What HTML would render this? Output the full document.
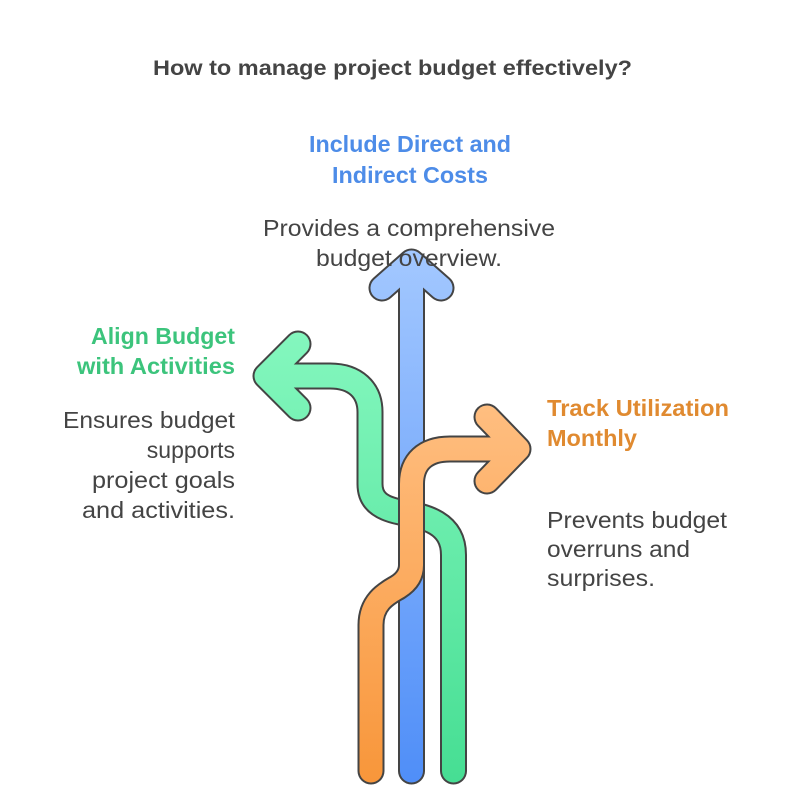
<!DOCTYPE html>
<html><head><style>
body{margin:0;background:#fff;width:792px;height:811px;overflow:hidden;font-family:"Liberation Sans",sans-serif;}
svg{position:absolute;left:0;top:0}
</style></head><body>
<svg width="792" height="811" viewBox="0 0 792 811">
<defs>
<linearGradient id="gb" gradientUnits="userSpaceOnUse" x1="0" y1="250" x2="0" y2="784"><stop offset="0" stop-color="#a3c8ff"/><stop offset="1" stop-color="#4f8ef8"/></linearGradient>
<linearGradient id="gg" gradientUnits="userSpaceOnUse" x1="0" y1="332" x2="0" y2="784"><stop offset="0" stop-color="#84f7be"/><stop offset="1" stop-color="#46de93"/></linearGradient>
<linearGradient id="go" gradientUnits="userSpaceOnUse" x1="0" y1="405" x2="0" y2="784"><stop offset="0" stop-color="#ffbe80"/><stop offset="1" stop-color="#f8963a"/></linearGradient>
</defs>
<g fill="none" stroke-linecap="round" stroke-linejoin="round">
<path d="M411.5 771 V268 M382 288 L411.5 262 L441 288" stroke="#444" stroke-width="27"/>
<path d="M411.5 771 V268 M382 288 L411.5 262 L441 288" stroke="url(#gb)" stroke-width="23"/>
<path d="M453.5 771 V555 C453.5 520 420 516 400 512 C380 508 370 500 370 484 V412 C370 390 355 376 330 376 H270 M298 344 L266 376 L298 408" stroke="#444" stroke-width="27"/>
<path d="M453.5 771 V555 C453.5 520 420 516 400 512 C380 508 370 500 370 484 V412 C370 390 355 376 330 376 H270 M298 344 L266 376 L298 408" stroke="url(#gg)" stroke-width="23"/>
<path d="M371 771 V625 C371 600 390 592 398 587 C406 582 411.5 575 411.5 565 V484 C411.5 462 425 449 450 449 H514 M487 417 L518 449 L487 481" stroke="#444" stroke-width="27"/>
<path d="M371 771 V625 C371 600 390 592 398 587 C406 582 411.5 575 411.5 565 V484 C411.5 462 425 449 450 449 H514 M487 417 L518 449 L487 481" stroke="url(#go)" stroke-width="23"/>
</g>
<g font-family="Liberation Sans, sans-serif">
<text x="153" y="75" textLength="479" lengthAdjust="spacingAndGlyphs" font-size="21" font-weight="bold" fill="#444">How to manage project budget effectively?</text>
<text x="309" y="152" textLength="202" lengthAdjust="spacingAndGlyphs" font-size="23" font-weight="bold" fill="#4d8ce8">Include Direct and</text>
<text x="332" y="183" textLength="156" lengthAdjust="spacingAndGlyphs" font-size="23" font-weight="bold" fill="#4d8ce8">Indirect Costs</text>
<text x="263" y="236" textLength="292" lengthAdjust="spacingAndGlyphs" font-size="23" fill="#444">Provides a comprehensive</text>
<text x="316" y="266" textLength="186" lengthAdjust="spacingAndGlyphs" font-size="23" fill="#444">budget overview.</text>
<text x="91" y="344" textLength="144" lengthAdjust="spacingAndGlyphs" font-size="23" font-weight="bold" fill="#3cc47c">Align Budget</text>
<text x="77" y="374" textLength="158" lengthAdjust="spacingAndGlyphs" font-size="23" font-weight="bold" fill="#3cc47c">with Activities</text>
<text x="63" y="428" textLength="172" lengthAdjust="spacingAndGlyphs" font-size="23" fill="#444">Ensures budget</text>
<text x="235" y="458" text-anchor="end" font-size="23" fill="#444">supports</text>
<text x="92" y="488" textLength="143" lengthAdjust="spacingAndGlyphs" font-size="23" fill="#444">project goals</text>
<text x="82" y="518" textLength="153" lengthAdjust="spacingAndGlyphs" font-size="23" fill="#444">and activities.</text>
<text x="547" y="416" textLength="182" lengthAdjust="spacingAndGlyphs" font-size="23" font-weight="bold" fill="#e08a30">Track Utilization</text>
<text x="547" y="446" textLength="90" lengthAdjust="spacingAndGlyphs" font-size="23" font-weight="bold" fill="#e08a30">Monthly</text>
<text x="547" y="528" textLength="180" lengthAdjust="spacingAndGlyphs" font-size="23" fill="#444">Prevents budget</text>
<text x="547" y="557" textLength="143" lengthAdjust="spacingAndGlyphs" font-size="23" fill="#444">overruns and</text>
<text x="547" y="586" textLength="108" lengthAdjust="spacingAndGlyphs" font-size="23" fill="#444">surprises.</text>
</g>
</svg>
</body></html>
